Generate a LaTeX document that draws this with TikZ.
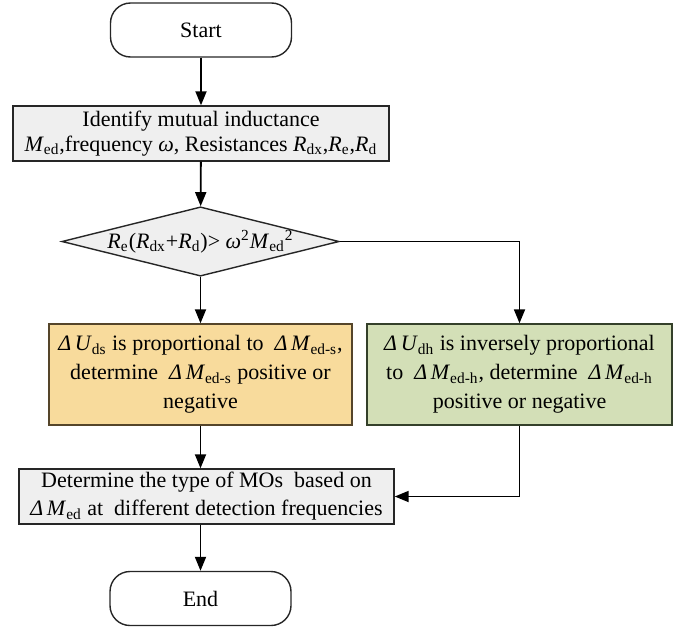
\documentclass[tikz,border=0pt]{standalone}
\usepackage{fontspec}
\setmainfont{Liberation Serif}
\usepackage{xcolor}
\usetikzlibrary{arrows.meta,shapes.geometric}
\definecolor{boxgray}{HTML}{EFEFEF}
\definecolor{boxorange}{HTML}{F8DB9C}
\definecolor{lineorange}{HTML}{55452A}
\definecolor{boxgreen}{HTML}{D3DFB7}
\definecolor{linegreen}{HTML}{34402A}
\newcommand{\isub}[2]{\textit{#1}\textsubscript{#2}}
\newcommand{\dlt}{\textit{Δ\,}}

\begin{document}
\begin{tikzpicture}[x=0.5pt,y=-0.5pt,font=\fontsize{11}{12.5}\selectfont,
  every node/.style={align=center},
  term/.style={draw=black!85,line width=0.7pt,rounded corners=10pt,minimum width=90.5pt,minimum height=27pt},
  proc/.style={draw=black!85,line width=0.7pt,fill=boxgray,inner sep=0pt,minimum height=27.5pt},
  decide/.style={diamond,aspect=4,draw=black!85,line width=0.7pt,fill=boxgray,inner sep=0pt,minimum width=137.5pt,minimum height=34.5pt},
  flow/.style={-{Triangle[length=7pt,width=5.5pt]},line width=0.9pt}]
\useasboundingbox (0,0) rectangle (685,632);
% --- main column ---
\node[term] (start) at (201,30) {Start};
\node[proc,minimum width=188pt] (ident) at (201,133.5)
  {Identify mutual inductance\\ \isub{M}{ed},frequency \textit{ω}, Resistances \isub{R}{dx},\isub{R}{e},\isub{R}{d}};
\node[decide] (cond) at (200.5,241.5)
  {\isub{R}{e}(\isub{R}{dx}+\isub{R}{d})> \textit{ω}\textsuperscript{2}\isub{M}{ed}\textsuperscript{2}};
% --- two branches ---
\node[draw=lineorange,line width=0.7pt,fill=boxorange,minimum width=151.5pt,minimum height=50.5pt,
  font=\fontsize{11}{14.5}\selectfont] (prop) at (200.5,374.5)
  {\dlt\isub{U}{ds} is proportional to \ \dlt\isub{M}{ed-s},\\ determine \ \dlt\isub{M}{ed-s} positive or\\ negative};
\node[draw=linegreen,line width=0.7pt,fill=boxgreen,minimum width=152.5pt,minimum height=50.5pt,
  font=\fontsize{11}{14.5}\selectfont] (inv) at (519.5,374.5)
  {\dlt\isub{U}{dh} is inversely proportional\\ to \ \dlt\isub{M}{ed-h}, determine \ \dlt\isub{M}{ed-h}\\ positive or negative};
% --- merge and end ---
\node[proc,minimum width=187.5pt,font=\fontsize{11}{14}\selectfont] (det) at (206.5,496.5)
  {Determine the type of MOs \ based on\\ \dlt\isub{M}{ed} at \ different detection frequencies};
\node[term] (stop) at (200.5,598.5) {End};
\draw[flow] (start) -- (ident);
\draw[flow] (ident) -- (cond);
\draw[flow] (cond) -- (prop);
\draw[flow] (cond.east) -- (cond.east -| inv.north) -- (inv.north);
\draw[flow] (prop.south) -- (prop.south |- det.north);
\draw[flow] (inv.south) |- (det.east);
\draw[flow] (det.south -| stop.north) -- (stop.north);
\end{tikzpicture}
\end{document}
